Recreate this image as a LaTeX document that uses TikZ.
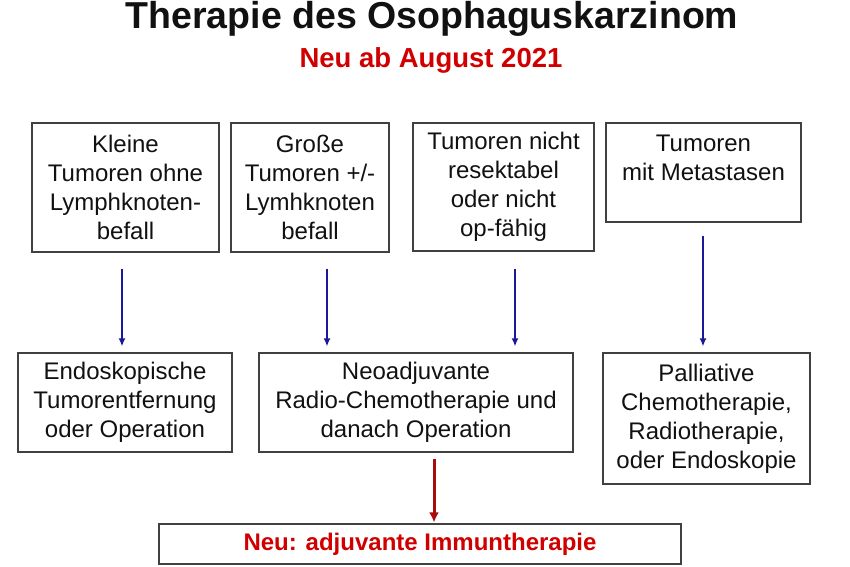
\documentclass[tikz,border=0pt]{standalone}
\usepackage{fontspec}
\setmainfont{Liberation Sans}
\usetikzlibrary{arrows.meta,positioning}
\definecolor{ink}{HTML}{111111}
\definecolor{frame}{HTML}{404040}
\definecolor{flowblue}{HTML}{1A1A99}
\definecolor{newred}{HTML}{A80C0C}
\definecolor{headred}{HTML}{D00000}

\begin{document}
\begin{tikzpicture}[
  x=1pt, y=-1pt,
  text=ink,
  box/.style={
    draw=frame,
    line width=1.2pt,
    align=center,
    inner sep=0pt,
    font=\fontsize{24}{29}\selectfont
  },
  title/.style={font=\fontsize{37.5}{40}\selectfont\bfseries, anchor=base},
  subtitle/.style={font=\fontsize{27.5}{30}\selectfont\bfseries, text=headred, anchor=base},
  newbox/.style={box, text=headred, font=\fontsize{24}{29}\selectfont\bfseries},
  flow/.style={-{Latex[length=8pt,width=7pt]}, line width=2pt, draw=flowblue,
    shorten <=16pt, shorten >=6pt},
  newflow/.style={-{Latex[length=10pt,width=10pt]}, line width=3pt, draw=newred,
    shorten <=6pt, shorten >=1pt}
]
\useasboundingbox (0,0) rectangle (850,566);

% Heading
\node[title] (head) at (432,28.5) {Therapie des Osophaguskarzinom};
\node[subtitle] (sub) at (431,67) {Neu ab August 2021};

% Tumour situation
\node[box, minimum width=187pt, minimum height=129pt] (kleine) at (125.5,187.5)
  {Kleine\\Tumoren ohne\\Lymphknoten-\\befall};
\node[box, minimum width=158pt, minimum height=129pt] (grosse) at (310,187.5)
  {Große\\Tumoren +/-\\Lymhknoten\\befall};
\node[box, minimum width=181pt, minimum height=128pt] (nicht) at (503.5,187)
  {Tumoren nicht\\resektabel\\oder nicht\\op-fähig};
\node[box, minimum width=195pt, minimum height=99pt] (meta) at (703.5,172.5)
  {Tumoren\\mit Metastasen\\\mbox{}};

% Therapy
\node[box, minimum width=214pt, minimum height=99pt] (endo) at (125,402.5)
  {Endoskopische\\Tumorentfernung\\oder Operation};
\node[box, minimum width=314pt, minimum height=99pt] (neo) at (416,402.5)
  {Neoadjuvante\\Radio-Chemotherapie und\\danach Operation};
\node[box, minimum width=207pt, minimum height=131pt] (pall) at (706.5,418.5)
  {Palliative\\Chemotherapie,\\Radiotherapie,\\oder Endoskopie};
\node[newbox, minimum width=522pt, minimum height=40pt] (immun) at (420,544)
  {Neu: adjuvante Immuntherapie};

\draw[flow] ([xshift=-3.5pt]kleine.south) -- ([xshift=-3.5pt]kleine.south |- endo.north);
\draw[flow] ([xshift=17pt]grosse.south) -- ([xshift=17pt]grosse.south |- neo.north);
\draw[flow, shorten <=17pt] ([xshift=11.5pt]nicht.south) -- ([xshift=11.5pt]nicht.south |- neo.north);
\draw[flow, shorten <=13pt] ([xshift=-0.5pt]meta.south) -- ([xshift=-0.5pt]meta.south |- pall.north);
\draw[newflow] ([xshift=18pt]neo.south) -- ([xshift=18pt]neo.south |- immun.north);

\end{tikzpicture}
\end{document}
